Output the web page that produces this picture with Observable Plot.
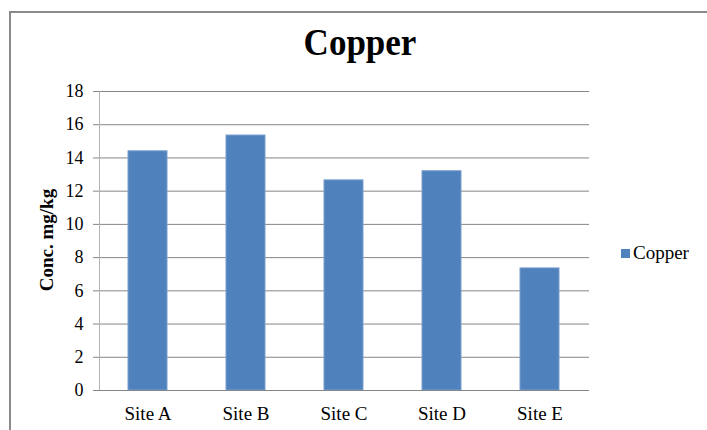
<!DOCTYPE html>
<html>
<head>
<meta charset="utf-8">
<script src="https://cdn.jsdelivr.net/npm/d3@7"></script>
<script src="https://cdn.jsdelivr.net/npm/@observablehq/plot@0.6"></script>
<style>
  html, body { margin: 0; padding: 0; background: #fff; }
  #wrap, #wrap * { font-family: "Liberation Serif", "Times New Roman", serif; }
  #wrap { position: relative; width: 707px; height: 430px; overflow: hidden; }
  #chart svg text { font-family: "Liberation Serif", "Times New Roman", serif !important; fill: #000; }
  #border { position: absolute; left: 9px; top: 11px; width: 720px; height: 440px; border-left: 2px solid #8a8a8a; border-top: 2px solid #8a8a8a; box-sizing: border-box; pointer-events: none; }
  #title { position: absolute; left: 0; width: 720px; top: 23px; line-height: 40px; text-align: center; font-weight: bold; font-size: 35px; color: #000; transform: scaleY(1.08); }
  #ylab { position: absolute; left: 47px; top: 240px; transform: translate(-50%, -50%) rotate(-90deg); font-weight: bold; font-size: 19px; white-space: nowrap; color: #000; }
  #legend { position: absolute; left: 621px; top: 242px; font-size: 19px; line-height: 22px; color: #000; display: flex; align-items: center; }
  #legend .sw { width: 9px; height: 9px; background: #4F81BD; margin-right: 3px; margin-top: 0px; }
  #chart { position: absolute; left: 0; top: 0; }
</style>
</head>
<body>
<div id="wrap">
  <div id="chart"></div>
  <div id="border"></div>
  <div id="title">Copper</div>
  <div id="ylab">Conc. mg/kg</div>
  <div id="legend"><span class="sw"></span><span>Copper</span></div>
</div>
<script>
const sites = ["Site A", "Site B", "Site C", "Site D", "Site E"];
const copper = [14.4, 15.35, 12.65, 13.2, 7.35];
const yTicks = [0, 2, 4, 6, 8, 10, 12, 14, 16, 18];

const data = sites.map((s, i) => ({site: s, value: copper[i]}));

const chart = Plot.plot({
  width: 707,
  height: 430,
  marginLeft: 99,
  marginRight: 118,
  marginTop: 91,
  marginBottom: 40,
  style: { fontFamily: "Liberation Serif, Times New Roman, serif", fontSize: "19px", color: "#000", background: "transparent", overflow: "visible" },
  x: { domain: sites, paddingInner: 0.6, paddingOuter: 0.3, label: null },
  y: { domain: [0, 18], label: null },
  marks: [
    Plot.gridY(yTicks, { stroke: "#868686", strokeOpacity: 1 }),
    Plot.barY(data, { x: "site", y: "value", fill: "#4F81BD", stroke: "#7A9FCF", strokeWidth: 1 }),
    Plot.frame({ anchor: "left", stroke: "#b4b4b4" }),
    Plot.ruleY([0], { stroke: "#868686" }),
    Plot.axisY(yTicks, { tickSize: 6, tickPadding: 10, stroke: "#868686", label: null, fontSize: 18 }),
    Plot.axisX({ tickSize: 0, tickPadding: 16, label: null, fontSize: 19 })
  ]
});
document.getElementById("chart").appendChild(chart);
</script>
</body>
</html>
